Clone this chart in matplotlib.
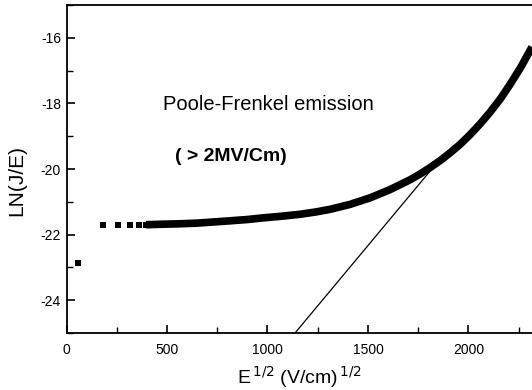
import matplotlib
matplotlib.use("Agg")
import matplotlib.pyplot as plt
from matplotlib.ticker import MultipleLocator

plt.rcParams['font.family'] = ['Liberation Sans', 'DejaVu Sans']

# sparse low-field points
sparse_x = [57, 180, 256, 316, 361, 396]
sparse_y = [-22.87, -21.71, -21.71, -21.71, -21.70, -21.70]

# dense part of the measured curve
dense_x = [396, 440, 500, 565, 650, 720, 813, 900, 978, 1070, 1162, 1240,
           1311, 1410, 1510, 1609, 1709, 1760, 1808, 1860, 1908, 1960, 2007,
           2060, 2107, 2160, 2207, 2260, 2307, 2316]
dense_y = [-21.70, -21.69, -21.68, -21.67, -21.65, -21.62, -21.58, -21.54,
           -21.49, -21.44, -21.38, -21.31, -21.23, -21.08, -20.88, -20.63,
           -20.33, -20.15, -19.96, -19.74, -19.51, -19.24, -18.96, -18.61,
           -18.27, -17.85, -17.42, -16.90, -16.38, -16.28]

# Poole-Frenkel fit line
fit_x = [1137, 1823]
fit_y = [-25.0, -19.96]

xticks = [0, 500, 1000, 1500, 2000]
yticks = [-24, -22, -20, -18, -16]

fig = plt.figure(figsize=(5.32, 3.90), dpi=100)
ax = fig.add_axes([66.5/532, 1-333/390, 1-66.5/532, (333-5)/390])

ax.plot(sparse_x, sparse_y, 's', color='black', markersize=5, markeredgewidth=0)
ax.plot(dense_x, dense_y, '-', color='black', linewidth=5.5,
        solid_capstyle='butt', solid_joinstyle='round')
ax.plot(fit_x, fit_y, '-', color='black', linewidth=0.9)

ax.set_xlim(0, 2316)
ax.set_ylim(-25, -15)
ax.set_xticks(xticks)
ax.set_yticks(yticks)
ax.set_xticklabels([str(v) for v in xticks])
ax.set_yticklabels([str(v) for v in yticks])
ax.xaxis.set_minor_locator(MultipleLocator(250))
ax.yaxis.set_minor_locator(MultipleLocator(1))
ax.tick_params(which='major', direction='in', length=6, width=1.2, labelsize=10, top=False, right=False)
ax.tick_params(which='minor', direction='in', length=4, width=1.0, top=False, right=False)
ax.tick_params(axis='x', pad=7)
ax.tick_params(axis='y', pad=4)
for s in ['left', 'bottom', 'top']:
    ax.spines[s].set_linewidth(1.3)
ax.spines['right'].set_visible(False)

ax.set_xlabel(r'E$^{\,1/2}$ (V/cm)$^{\,1/2}$', fontsize=14)
ax.xaxis.label.set_va('center')
ax.xaxis.set_label_coords(0.5, -0.134)
ax.set_ylabel('LN(J/E)', fontsize=15)
ax.yaxis.label.set_va('center')
ax.yaxis.set_label_coords(-0.106, 0.466)

ax.text(480, -18.02, 'Poole-Frenkel emission', fontsize=14.5, va='center', ha='left')
ax.text(540, -19.62, '( > 2MV/Cm)', fontsize=14, fontweight='bold', va='center', ha='left')

fig.savefig('out.png', dpi=100)
